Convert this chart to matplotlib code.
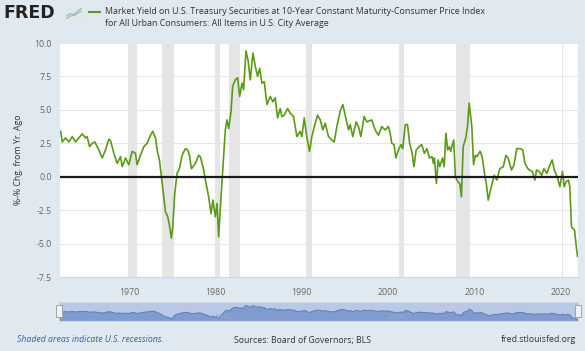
import matplotlib.pyplot as plt
from matplotlib.patches import Rectangle

plt.rcParams['font.family'] = ['Open Sans', 'DejaVu Sans']

years = [1962.07, 1962.26, 1962.65, 1963.03, 1963.42, 1963.8, 1964.19, 1964.57, 1964.96, 1965.15,
         1965.42, 1965.73, 1966.04, 1966.5, 1966.89, 1967.27, 1967.66, 1967.85, 1968.24, 1968.62,
         1969.01, 1969.2, 1969.59, 1969.97, 1970.36, 1970.74, 1970.93, 1971.32, 1971.71, 1972.09,
         1972.48, 1972.75, 1973.06, 1973.25, 1973.52, 1973.75, 1974.02, 1974.21, 1974.48, 1974.67,
         1974.9, 1975.06, 1975.29, 1975.56, 1975.83, 1976.14, 1976.52, 1976.79, 1976.99, 1977.22,
         1977.68, 1978.07, 1978.26, 1978.65, 1978.84, 1979.22, 1979.49, 1979.72, 1979.99, 1980.19,
         1980.38, 1980.65, 1980.88, 1981.15, 1981.34, 1981.54, 1981.81, 1982.0, 1982.31, 1982.58,
         1982.81, 1983.08, 1983.27, 1983.54, 1983.77, 1984.04, 1984.35, 1984.62, 1984.89, 1985.12,
         1985.39, 1985.66, 1985.97, 1986.36, 1986.66, 1986.93, 1987.2, 1987.51, 1987.7, 1987.97,
         1988.36, 1988.67, 1989.05, 1989.44, 1989.82, 1990.02, 1990.29, 1990.6, 1990.9, 1991.17,
         1991.56, 1991.83, 1992.14, 1992.45, 1992.72, 1993.1, 1993.49, 1993.76, 1994.07, 1994.45,
         1994.76, 1995.03, 1995.42, 1995.61, 1995.92, 1996.3, 1996.57, 1996.84, 1997.23, 1997.54,
         1998.11, 1998.5, 1998.88, 1999.27, 1999.66, 2000.04, 2000.24, 2000.43, 2000.7, 2000.9,
         2001.2, 2001.5, 2001.7, 2002.0, 2002.25, 2002.5, 2002.75, 2003.0, 2003.25, 2003.6,
         2003.9, 2004.2, 2004.5, 2004.8, 2005.1, 2005.25, 2005.37, 2005.6, 2005.8, 2006.0,
         2006.3, 2006.5, 2006.7, 2006.9, 2007.1, 2007.25, 2007.6, 2007.8, 2008.1, 2008.3,
         2008.5, 2008.7, 2009.0, 2009.2, 2009.4, 2009.7, 2009.9, 2010.1, 2010.3, 2010.65,
         2010.9, 2011.2, 2011.4, 2011.6, 2011.9, 2012.3, 2012.6, 2012.95, 2013.35, 2013.65,
         2013.9, 2014.3, 2014.6, 2014.9, 2015.3, 2015.6, 2015.85, 2016.2, 2016.4, 2016.7,
         2017.0, 2017.2, 2017.5, 2017.8, 2018.05, 2018.4, 2018.75, 2019.0, 2019.3, 2019.6,
         2019.9, 2020.2, 2020.4, 2020.6, 2020.9, 2021.05, 2021.25, 2021.45, 2021.6, 2021.85,
         2021.95]
spread = [3.4, 2.6, 2.9, 2.6, 3.0, 2.6, 2.9, 3.2, 2.9, 3.0,
          2.25, 2.5, 2.6, 2.0, 1.4, 2.0, 2.8, 2.7, 1.75, 1.0,
          1.5, 0.75, 1.4, 0.9, 1.9, 1.75, 0.9, 1.6, 2.25, 2.5,
          3.1, 3.4, 2.9, 2.0, 1.25, 0.0, -1.5, -2.6, -3.0, -3.6,
          -4.6, -3.75, -1.25, 0.25, 0.6, 1.6, 2.1, 2.0, 1.6, 0.6,
          1.0, 1.6, 1.5, 0.5, -0.25, -1.5, -2.75, -1.75, -3.0, -2.0,
          -4.5, -1.5, 0.75, 3.5, 4.25, 3.6, 4.9, 6.75, 7.25, 7.4,
          6.0, 7.0, 6.5, 9.4, 8.75, 7.25, 9.25, 8.25, 7.5, 8.1,
          7.0, 7.1, 5.4, 6.0, 5.6, 5.9, 4.4, 5.1, 4.5, 4.6,
          5.1, 4.75, 4.5, 3.0, 3.4, 3.0, 4.4, 2.9, 1.9, 3.0,
          4.0, 4.6, 4.25, 3.5, 4.0, 3.0, 2.75, 2.6, 3.75, 4.9,
          5.4, 4.6, 3.5, 3.9, 3.0, 4.1, 3.75, 3.0, 4.5, 4.1,
          4.25, 3.5, 3.1, 3.75, 3.5, 3.75, 3.25, 2.5, 2.4, 1.4,
          2.0, 2.4, 2.1, 3.9, 3.9, 2.5, 1.9, 0.75, 2.0, 2.25,
          2.4, 1.75, 2.1, 1.4, 1.5, 1.0, 1.4, -0.5, 1.25, 0.75,
          1.4, 0.75, 3.25, 2.0, 2.25, 1.9, 2.75, 0.0, -0.4, -0.5,
          -1.5, 2.25, 2.9, 3.75, 5.5, 3.75, 0.9, 1.6, 1.5, 1.9,
          1.5, 0.1, -0.6, -1.75, -0.9, 0.1, -0.25, 0.6, 0.75, 1.6,
          1.4, 0.5, 0.9, 2.1, 2.1, 2.0, 1.0, 0.6, 0.5, 0.4,
          -0.25, 0.5, 0.4, 0.1, 0.6, 0.25, 0.9, 1.25, 0.4, 0.0,
          -0.75, 0.4, -0.75, -0.4, -0.25, -0.75, -3.75, -3.9, -4.0, -5.5,
          -5.95]

recessions = [(1969.92, 1970.87), (1973.87, 1975.21), (1980.0, 1980.54), (1981.54, 1982.87),
              (1990.54, 1991.21), (2001.21, 2001.87), (2007.92, 2009.46), (2020.12, 2020.29)]

yticks = [-7.5, -5.0, -2.5, 0.0, 2.5, 5.0, 7.5, 10.0]
xticks = [1970, 1980, 1990, 2000, 2010, 2020]

bg = '#e1e9f0'
green = '#5a9a17'

fig = plt.figure(figsize=(5.85, 3.51), dpi=100, facecolor=bg)
ax = fig.add_axes([60 / 585, 1 - 277 / 351, 518 / 585, 234 / 351])
ax.set_facecolor('white')

for r0, r1 in recessions:
    ax.axvspan(r0, r1, color='#e5e5e5', lw=0, zorder=1)

ax.plot(years, spread, color=green, lw=1.2, zorder=3)
ax.axhline(0, color='#1a1a1a', lw=1.6, zorder=4)

ax.set_xlim(1962.0, 2022.0)
ax.set_ylim(-7.5, 10.0)
ax.set_yticks(yticks)
ax.set_yticklabels([f'{v:.1f}' for v in yticks])
ax.set_xticks(xticks)
ax.grid(axis='y', color='#e6e6e6', lw=0.8, zorder=0)
ax.tick_params(axis='both', length=0, labelsize=6.3, colors='#666666', pad=6)
ax.tick_params(axis='x', pad=8)
for s in ['top', 'right', 'left']:
    ax.spines[s].set_visible(False)
ax.spines['bottom'].set_color('#ccd6eb')
ax.set_ylabel('%-% Chg. from Yr. Ago', fontsize=6.3, color='#333333', labelpad=8)

# navigator strip
nav = fig.add_axes([59 / 585, 1 - 321 / 351, 519 / 585, 19 / 351])
nav.set_facecolor('#b9c8e4')
nav.fill_between(years, spread, -9, color='#7f9bcf', lw=0.7, edgecolor='#5c7db5')
nav.set_xlim(1962.0, 2022.0)
nav.set_ylim(-7.5, 12.5)
nav.set_xticks([])
nav.set_yticks([])
for s in nav.spines.values():
    s.set_color('#cdd7e8')
for yr in [1980, 2000]:
    nav.text(yr, -3.5, str(yr), fontsize=6, color='#9aaccc', ha='left', va='center')
for hx in [0.0, 1.0]:
    nav.add_patch(Rectangle((hx - 0.006, 0.2), 0.012, 0.62, transform=nav.transAxes,
                            facecolor='#f2f2f2', edgecolor='#999999', lw=0.6,
                            clip_on=False, zorder=5))

# header
fig.text(3 / 585, 1 - 13.5 / 351, 'FRED', fontsize=12.5, fontweight='heavy',
         color='#222222', va='center', family='DejaVu Sans')
icon = fig.add_axes([66 / 585, 1 - 19 / 351, 16 / 585, 11 / 351])
icon.set_facecolor('#dfe6ee')
icon.plot([0, 1, 2, 3, 4], [0.3, 0.5, 0.4, 0.7, 0.9], color='#8fb3d9', lw=0.8)
icon.plot([0, 1, 2, 3, 4], [0.1, 0.3, 0.35, 0.5, 0.7], color='#9cc46a', lw=0.8)
icon.set_xticks([])
icon.set_yticks([])
for s in icon.spines.values():
    s.set_visible(False)

fig.add_artist(plt.Line2D([89 / 585, 100 / 585], [1 - 11.5 / 351, 1 - 11.5 / 351],
                          color=green, lw=1.5))
fig.text(105 / 585, 1 - 11 / 351,
         'Market Yield on U.S. Treasury Securities at 10-Year Constant Maturity-Consumer Price Index',
         fontsize=6.4, color='#333333', va='center')
fig.text(105 / 585, 1 - 24 / 351, 'for All Urban Consumers: All Items in U.S. City Average',
         fontsize=6.4, color='#333333', va='center')

# footer
fig.text(17 / 585, 1 - 340 / 351, 'Shaded areas indicate U.S. recessions.', fontsize=6.3,
         style='italic', color='#3d5f9e', va='center')
fig.text(234 / 585, 1 - 340 / 351, 'Sources: Board of Governors; BLS', fontsize=6.3,
         color='#333333', va='center')
fig.text(576 / 585, 1 - 340 / 351, 'fred.stlouisfed.org', fontsize=6.3,
         color='#333333', va='center', ha='right')

fig.savefig('out.png', dpi=100, facecolor=bg)
